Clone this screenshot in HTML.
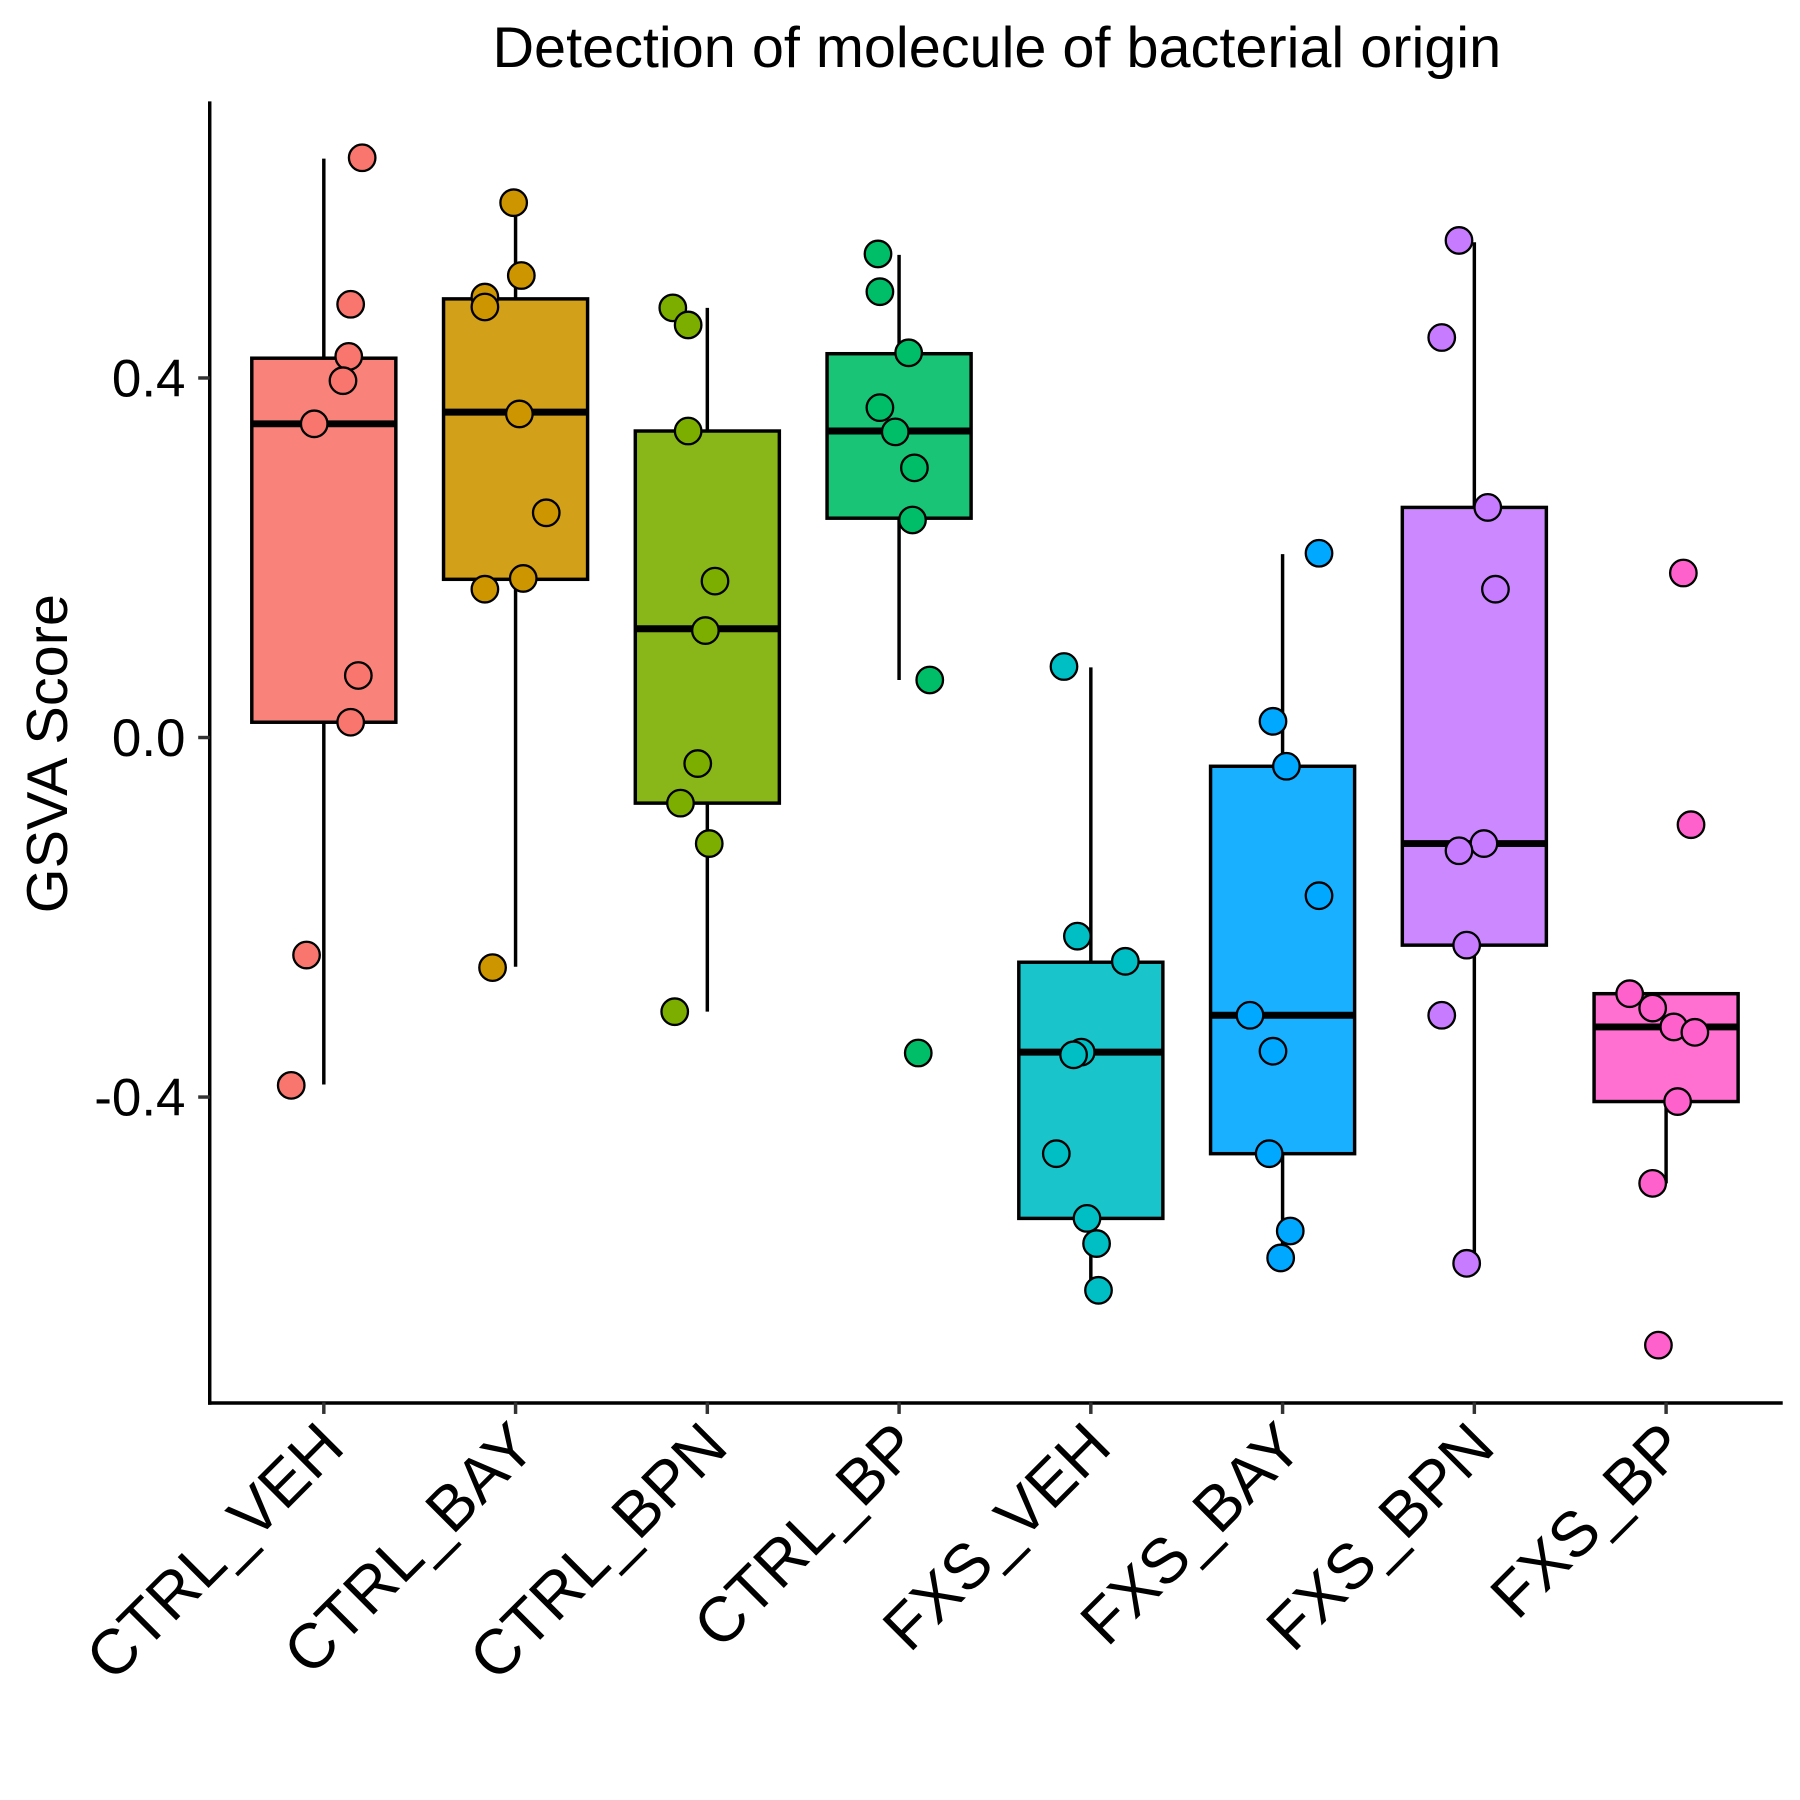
<!DOCTYPE html>
<html><head><meta charset="utf-8"><style>html,body{margin:0;padding:0;background:#fff}svg{display:block}</style></head>
<body>
<svg id="chart" width="1800" height="1800" viewBox="0 0 1562 1562" xmlns="http://www.w3.org/2000/svg" font-family="'Liberation Sans', Arial, sans-serif">
<rect width="1562" height="1562" fill="#fff"/>
<text x="865" y="58" font-size="50" text-anchor="middle">Detection of molecule of bacterial origin</text>
<text transform="translate(58,654) rotate(-90)" font-size="50" text-anchor="middle">GSVA Score</text>
<g id="plot"></g>
</svg>
<script>
const categories = ["CTRL_VEH","CTRL_BAY","CTRL_BPN","CTRL_BP","FXS_VEH","FXS_BAY","FXS_BPN","FXS_BP"];
const colors = ["#F8766D","#CD9600","#7CAE00","#00BE67","#00BFC4","#00A9FF","#C77CFF","#FF61CC"];
const q1 = [0.017,0.176,-0.073,0.244,-0.535,-0.463,-0.231,-0.405];
const medians = [0.349,0.362,0.121,0.341,-0.350,-0.309,-0.118,-0.322];
const q3 = [0.422,0.488,0.341,0.427,-0.250,-0.032,0.256,-0.285];
const whiskerLo = [-0.386,-0.255,-0.305,0.064,-0.614,-0.578,-0.585,-0.496];
const whiskerHi = [0.644,0.585,0.478,0.537,0.078,0.204,0.551,-0.285];
const points = [
 [0.645,0.482,0.424,0.397,0.349,0.069,0.017,-0.242,-0.387],
 [0.595,0.490,0.479,0.514,0.360,0.250,0.165,0.177,-0.256],
 [0.478,0.459,0.341,0.174,0.119,-0.029,-0.073,-0.118,-0.305],
 [0.538,0.496,0.428,0.367,0.340,0.300,0.242,0.064,-0.351],
 [0.079,-0.221,-0.249,-0.350,-0.353,-0.463,-0.535,-0.563,-0.615],
 [0.205,0.018,-0.032,-0.176,-0.309,-0.349,-0.463,-0.549,-0.579],
 [0.553,0.445,0.256,0.165,-0.118,-0.126,-0.231,-0.309,-0.585],
 [0.183,-0.097,-0.285,-0.301,-0.322,-0.328,-0.405,-0.496,-0.676]
];
const jitter = [
 [0.20,0.14,0.13,0.10,-0.05,0.18,0.14,-0.09,-0.17],
 [-0.01,-0.16,-0.16,0.03,0.02,0.16,-0.16,0.04,-0.12],
 [-0.18,-0.10,-0.10,0.04,-0.01,-0.05,-0.14,0.01,-0.17],
 [-0.11,-0.10,0.05,-0.10,-0.02,0.08,0.07,0.16,0.10],
 [-0.14,-0.07,0.18,-0.05,-0.09,-0.18,-0.02,0.03,0.04],
 [0.19,-0.05,0.02,0.19,-0.17,-0.05,-0.07,0.04,-0.01],
 [-0.08,-0.17,0.07,0.11,0.05,-0.08,-0.04,-0.17,-0.04],
 [0.09,0.13,-0.19,-0.07,0.04,0.15,0.06,-0.07,-0.04]
];
const yTicks = [0.4,0.0,-0.4];
const yTickLabels = ["0.4","0.0","-0.4"];

const NS="http://www.w3.org/2000/svg";
const g=document.getElementById("plot");
const yS=v=>640-780*v;
const xS=i=>281+166.4*i;
const bw=166.4;
function mk(tag,attrs){const e=document.createElementNS(NS,tag);for(const k in attrs)e.setAttribute(k,attrs[k]);g.appendChild(e);return e;}

categories.forEach((c,i)=>{
  const x=xS(i);
  const w=mk("line",{x1:x,x2:x,y1:yS(whiskerHi[i]),y2:yS(whiskerLo[i]),stroke:"#000","stroke-width":3});
  
  
  const b=mk("rect",{x:x-62.5,y:yS(q3[i]),width:125,height:yS(q1[i])-yS(q3[i]),fill:colors[i],"fill-opacity":0.9,stroke:"#000","stroke-width":3});
  
  
  const cover=mk("rect",{x:x-61,y:yS(q3[i])+1.5,width:122,height:yS(q1[i])-yS(q3[i])-3,fill:"#fff"});
  
  
  g.insertBefore(cover,b);
  const m=mk("line",{x1:x-62.5,x2:x+62.5,y1:yS(medians[i]),y2:yS(medians[i]),stroke:"#000","stroke-width":6});
  
  
  points[i].forEach((v,j)=>{
    const p=mk("circle",{cx:x+jitter[i][j]*bw,cy:yS(v),r:11.5,fill:colors[i],stroke:"#000","stroke-width":2});
    
    
  });
});
const ya=mk("line",{x1:182,x2:182,y1:88,y2:1219,stroke:"#000","stroke-width":3});


const xa=mk("line",{x1:180.5,x2:1547,y1:1217.5,y2:1217.5,stroke:"#000","stroke-width":3});


yTicks.forEach((v,k)=>{
  const t=mk("line",{x1:172,x2:182,y1:yS(v),y2:yS(v),stroke:"#333","stroke-width":3});
  
  
  const l=mk("text",{x:161,y:yS(v)+16,"font-size":46,"text-anchor":"end"});
  l.textContent=yTickLabels[k];
  
  
});
categories.forEach((c,i)=>{
  const x=xS(i);
  const t=mk("line",{x1:x,x2:x,y1:1217,y2:1227,stroke:"#333","stroke-width":3});
  
  
  const l=mk("text",{transform:`translate(${x+20},${1258}) rotate(-45)`,"font-size":55,"text-anchor":"end"});
  l.textContent=c;
  
  
});
</script>
</body></html>
